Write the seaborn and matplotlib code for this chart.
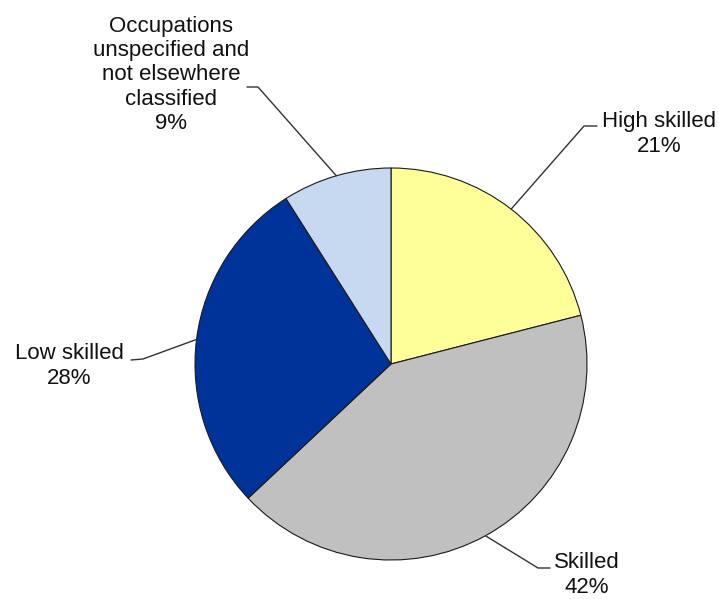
import matplotlib.pyplot as plt
import numpy as np
import seaborn as sns

# ── Data ──────────────────────────────────────────────────────────────────────

categories = ["High skilled", "Skilled", "Low skilled",
              "Occupations\nunspecified and\nnot elsewhere\nclassified"]
shares = [21, 42, 28, 9]
colors = ["#FFFF99", "#C0C0C0", "#003399", "#C6D9F0"]

# label placement (pixel coords, y from top): text centre, elbow, elbow end
label_xy = [(659, 134), (587, 575), (69, 366), (171, 75)]
elbow = [[(597, 126), (584, 126)],
         [(550, 568), (538, 568)],
         [(131, 360), (143, 359)],
         [(247, 87), (258, 87)]]

W, H = 718, 599
CX, CY, R = 391, 364, 196

sns.set_theme(style="white")
plt.rcParams["font.family"] = ["Liberation Sans", "DejaVu Sans"]

fig = plt.figure(figsize=(W / 100, H / 100), dpi=100)
ax = fig.add_axes([0, 0, 1, 1])
ax.set_xlim(0, W)
ax.set_ylim(0, H)
ax.set_aspect("equal")
ax.axis("off")

wedges, _ = ax.pie(shares, colors=colors, startangle=90, counterclock=False,
                   center=(CX, H - CY), radius=R,
                   wedgeprops={"edgecolor": "#1a1a1a", "linewidth": 0.8})
ax.set_xlim(0, W)
ax.set_ylim(0, H)

for w, name, val, (tx, ty), pts in zip(wedges, categories, shares, label_xy, elbow):
    mid = np.deg2rad((w.theta1 + w.theta2) / 2)
    ex, ey = CX + R * np.cos(mid), (H - CY) + R * np.sin(mid)
    xs = [p[0] for p in pts] + [ex]
    ys = [H - p[1] for p in pts] + [ey]
    ax.plot(xs, ys, color="#333333", linewidth=1.0)
    ax.text(tx, H - ty, f"{name}\n{val}%", ha="center", va="center",
            fontsize=16, color="#111111", linespacing=1.2)

fig.savefig("out.png", dpi=100)
